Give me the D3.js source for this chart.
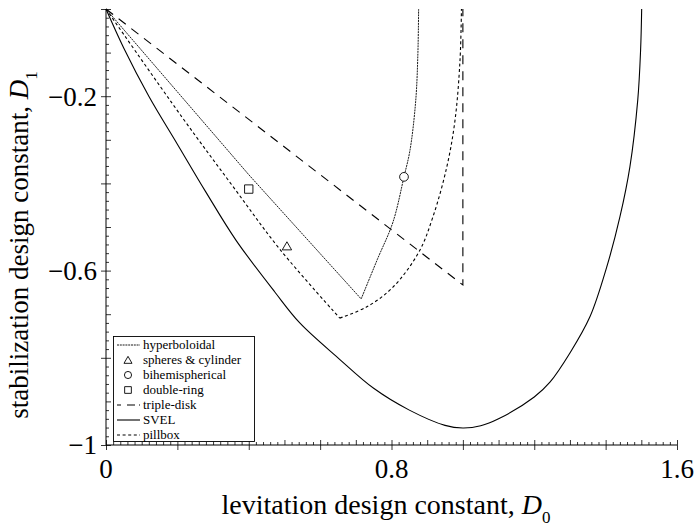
<!DOCTYPE html>
<html>
<head>
<meta charset="utf-8">
<script src="https://cdn.jsdelivr.net/npm/d3@7"></script>
<style>
  html, body { margin: 0; padding: 0; background: #fff; }
  svg { display: block; }
</style>
</head>
<body>
<svg id="chart" width="694" height="530"></svg>
<script>
// ---- data: [D0, D1] pairs ----
// straight left branches end at a sharp vertex; right branches are smooth
const hyperboloidalLeft  = [[0, 0], [0.4, -0.38], [0.715, -0.665]];
const hyperboloidalRight = [[0.715, -0.665], [0.76, -0.575], [0.804, -0.489], [0.835, -0.385],
                            [0.852, -0.323], [0.868, -0.209], [0.874, -0.1], [0.876, 0]];
const pillboxLeft  = [[0, 0], [0.213, -0.248], [0.353, -0.404], [0.489, -0.553], [0.655, -0.709]];
const pillboxRight = [[0.655, -0.709], [0.731, -0.683], [0.804, -0.638], [0.877, -0.557],
                      [0.916, -0.477], [0.955, -0.362], [0.978, -0.255], [0.992, -0.117], [0.996, 0]];
const tripleDisk = [[0, 0], [1.0, -0.633], [1.0, 0]];
const svel = [[0, 0], [0.05, -0.09], [0.12, -0.2], [0.2, -0.31], [0.28, -0.42], [0.364, -0.53],
              [0.473, -0.649], [0.543, -0.72], [0.65, -0.8], [0.75, -0.87], [0.85, -0.92],
              [0.95, -0.955], [1.0, -0.961], [1.05, -0.956], [1.1, -0.94], [1.2, -0.89],
              [1.244, -0.856], [1.3, -0.789], [1.356, -0.706], [1.403, -0.592], [1.44, -0.477],
              [1.468, -0.362], [1.49, -0.209], [1.498, -0.094], [1.501, 0]];
const spheresCylinder = [0.507, -0.544];
const bihemispherical = [0.835, -0.385];
const doubleRing      = [0.40, -0.413];

const xLabelTicks = [0, 0.8, 1.6];
const yLabelTicks = [-0.2, -0.6, -1];
const legendNames = ["hyperboloidal", "spheres & cylinder", "bihemispherical", "double-ring",
                     "triple-disk", "SVEL", "pillbox"];

// ---- layout ----
const FONT = "'Liberation Serif', 'DejaVu Serif', serif";
const svg = d3.select("#chart").attr("font-family", FONT);
const x = d3.scaleLinear().domain([0, 1.6]).range([106, 677]);
const y = d3.scaleLinear().domain([-1, 0]).range([445, 9]);

const styles = {
  hyperboloidal: { dash: "2,0.8", width: 0.9 },
  pillbox:       { dash: "3,2.6", width: 1.1 },
  tripleDisk:    { dash: "9,7",   width: 1.1 },
  svel:          { dash: null,    width: 1.1 }
};

// ---- axes ----
const near = (a, b) => Math.abs(a - b) < 1e-6;
const isTenth = v => { const r = Math.abs(v * 10) % 1; return near(r, 0) || near(r, 1); };
const xMinor = d3.range(0, 1.6001, 0.02).filter(v => !isTenth(v));
const xMid   = d3.range(0.1, 1.6, 0.2);
const xMajor = d3.range(0, 1.6001, 0.2);
const yMinor = d3.range(-1, 0.0001, 0.02).filter(v => !isTenth(v));
const yMid   = d3.range(-0.9, 0, 0.2);
const yMajor = d3.range(-1, 0.0001, 0.2);

function tickAxis(axis, values, size, transform) {
  const g = svg.append("g").attr("transform", transform)
    .call(axis.tickValues(values).tickSize(size).tickFormat(""));
  g.selectAll("line").attr("stroke", "#000").attr("stroke-width", 0.8);
  g.select(".domain").remove();
  return g;
}
const xT = `translate(0,${y(-1)})`, yT = `translate(${x(0)},0)`;
tickAxis(d3.axisBottom(x), xMinor, -3, xT);
tickAxis(d3.axisBottom(x), xMid, -5, xT);
tickAxis(d3.axisBottom(x), xMajor, -5, xT);
tickAxis(d3.axisBottom(x), xMajor, 5, xT);
tickAxis(d3.axisLeft(y), yMinor, -3, yT);
tickAxis(d3.axisLeft(y), yMid, -5, yT);
tickAxis(d3.axisLeft(y), yMajor, -5, yT);
tickAxis(d3.axisLeft(y), yMajor, 5, yT);

// axis lines
svg.append("line").attr("x1", x(0)).attr("x2", x(1.6)).attr("y1", y(-1)).attr("y2", y(-1))
  .attr("stroke", "#000").attr("stroke-width", 1);
svg.append("line").attr("x1", x(0)).attr("x2", x(0)).attr("y1", y(-1)).attr("y2", y(0))
  .attr("stroke", "#000").attr("stroke-width", 1);

// tick labels
const fmt = v => (v === 0 ? "0" : String(v).replace("-", "\u2212"));
svg.append("g").selectAll("text").data(xLabelTicks).join("text")
  .attr("x", d => x(d)).attr("y", 478).attr("text-anchor", "middle")
  .attr("font-family", FONT).attr("font-size", 27).text(fmt);
svg.append("g").selectAll("text").data(yLabelTicks).join("text")
  .attr("x", 97).attr("y", d => y(d)).attr("dy", "0.35em").attr("text-anchor", "end")
  .attr("font-family", FONT).attr("font-size", 27).text(fmt);

// axis titles
const xt = svg.append("text").attr("x", 386).attr("y", 514).attr("text-anchor", "middle")
  .attr("font-family", FONT).attr("font-size", 28);
xt.append("tspan").text("levitation design constant, ");
xt.append("tspan").attr("font-style", "italic").text("D");
xt.append("tspan").attr("font-size", 17).attr("dy", 9).text("0");

const yt = svg.append("text").attr("transform", "translate(28,245) rotate(-90)")
  .attr("text-anchor", "middle").attr("font-family", FONT).attr("font-size", 27);
yt.append("tspan").text("stabilization design constant, ");
yt.append("tspan").attr("font-style", "italic").text("D");
yt.append("tspan").attr("font-size", 17).attr("dy", 9).text("1");

// ---- curves ----
const lineLin = d3.line().x(d => x(d[0])).y(d => y(d[1]));
const lineSmooth = d3.line().x(d => x(d[0])).y(d => y(d[1])).curve(d3.curveCatmullRom.alpha(0.5));

function drawPath(data, gen, st) {
  const p = svg.append("path").datum(data).attr("d", gen)
    .attr("fill", "none").attr("stroke", "#000").attr("stroke-width", st.width)
    .attr("stroke-linejoin", "miter");
  if (st.dash) p.attr("stroke-dasharray", st.dash);
}
drawPath(svel, lineSmooth, styles.svel);
drawPath(tripleDisk, lineLin, styles.tripleDisk);
drawPath(pillboxLeft, lineSmooth, styles.pillbox);
drawPath(pillboxRight, lineSmooth, styles.pillbox);
drawPath(hyperboloidalLeft, lineLin, styles.hyperboloidal);
drawPath(hyperboloidalRight, lineSmooth, styles.hyperboloidal);

// ---- point markers ----
const sym = {
  triangle: d3.symbol().type(d3.symbolTriangle).size(38),
  circle:   d3.symbol().type(d3.symbolCircle).size(60),
  square:   d3.symbol().type(d3.symbolSquare).size(70)
};
function marker(pt, gen, dy) {
  svg.append("path").attr("d", gen())
    .attr("transform", `translate(${x(pt[0])},${y(pt[1]) + (dy || 0)})`)
    .attr("fill", "#fff").attr("stroke", "#000").attr("stroke-width", 0.9);
}
marker(spheresCylinder, sym.triangle, 1);
marker(bihemispherical, sym.circle);
marker(doubleRing, sym.square);

// ---- legend ----
const lg = svg.append("g");
lg.append("rect").attr("x", 113.5).attr("y", 336.5).attr("width", 141).attr("height", 105)
  .attr("fill", "#fff").attr("stroke", "#000").attr("stroke-width", 0.9);
const rowY = i => 345 + i * 15;
legendNames.forEach((name, i) => {
  lg.append("text").attr("x", 143).attr("y", rowY(i)).attr("dy", "0.32em")
    .attr("font-family", FONT).attr("font-size", 13).text(name);
});
const sample = (i, st) => {
  const l = lg.append("line").attr("x1", 117).attr("x2", 140).attr("y1", rowY(i)).attr("y2", rowY(i))
    .attr("stroke", "#000").attr("stroke-width", st.width);
  if (st.dash) l.attr("stroke-dasharray", st.dash);
};
sample(0, styles.hyperboloidal);
sample(4, { dash: "4,6,8", width: 1.1 });
sample(5, styles.svel);
sample(6, styles.pillbox);
const legSym = {
  triangle: d3.symbol().type(d3.symbolTriangle).size(28),
  circle:   d3.symbol().type(d3.symbolCircle).size(40),
  square:   d3.symbol().type(d3.symbolSquare).size(45)
};
[[1, legSym.triangle, 1], [2, legSym.circle, 0], [3, legSym.square, 0]].forEach(([i, gen, dy]) => {
  lg.append("path").attr("d", gen()).attr("transform", `translate(128,${rowY(i) + dy})`)
    .attr("fill", "#fff").attr("stroke", "#000").attr("stroke-width", 0.9);
});
</script>
</body>
</html>
